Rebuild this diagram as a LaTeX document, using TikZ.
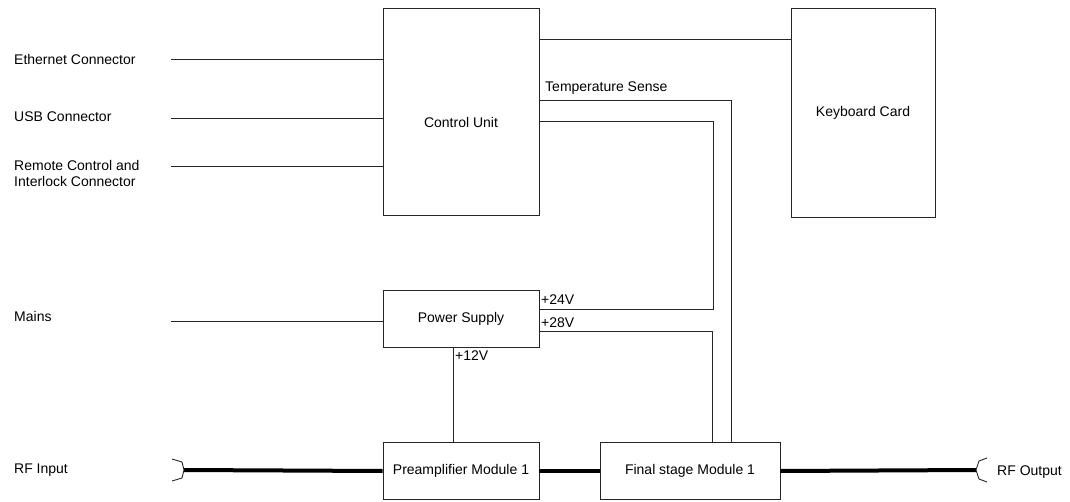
\documentclass[tikz,border=0pt]{standalone}
\usepackage{fontspec}
\setmainfont{Liberation Sans}
\begin{document}
\begin{tikzpicture}[x=1pt,y=-1pt,
  every node/.style={font=\fontsize{14}{16}\selectfont, text=black},
  box/.style={draw=black!85, line width=0.9pt, inner sep=0pt},
  wire/.style={draw=black!85, line width=0.9pt},
  rf/.style={draw=black, line width=4pt},
  lbl/.style={anchor=west, inner sep=0pt}]
\useasboundingbox (0,0) rectangle (1070,502);
% boxes
\node[box, minimum width=156pt, minimum height=207pt] (cu) at (461,111.5) {};
\node[inner sep=0pt] (cutext) at (461,122) {Control Unit};
\node[box, minimum width=144pt, minimum height=209pt] (kb) at (863,112.5) {Keyboard Card};
\node[box, minimum width=156pt, minimum height=57pt] (ps) at (461,318.5) {Power Supply};
\node[box, minimum width=156pt, minimum height=57pt] (pa) at (461,471) {Preamplifier Module 1};
\node[box, minimum width=180pt, minimum height=57pt] (fs) at (690,471) {Final stage Module 1};
% left labels
\node[lbl] (leth) at (14,59) {Ethernet Connector};
\node[lbl] (lusb) at (14,117) {USB Connector};
\node[lbl, align=left] (lrem) at (14,173) {Remote Control and\\Interlock Connector};
\node[lbl] (lmains) at (14,316) {Mains};
\node[lbl] (lrfin) at (14,470) {RF Input};
\node[lbl] (lrfout) at (997,472) {RF Output};
% other labels
\node[lbl] (ltemp) at (545,88) {Temperature Sense};
\node[lbl] (l24) at (541,300) {+24V};
\node[lbl] (l28) at (541,323) {+28V};
\node[lbl] (l12) at (455,356) {+12V};
% free ends
\coordinate (eth) at (171,59);
\coordinate (usb) at (171,118);
\coordinate (rem) at (171,166);
\coordinate (mains) at (171,321);
\coordinate (rfin) at (184,470);
\coordinate (rfout) at (976,470);
% control lines
\draw[wire] (eth) -- (eth -| cu.west);
\draw[wire] (usb) -- (usb -| cu.west);
\draw[wire] (rem) -- (rem -| cu.west);
\draw[wire] (mains) -- (mains -| ps.west);
\draw[wire] ([yshift=-32pt]cu.north east) -- ([yshift=-32pt]kb.north west);
\draw[wire] ([yshift=-93pt]cu.north east) -| ([xshift=132pt]fs.north west);
\draw[wire] ([yshift=-114pt]cu.north east) -| ([xshift=174pt,yshift=-20pt]ps.north east) -- ([yshift=-20pt]ps.north east);
\draw[wire] ([yshift=-42pt]ps.north east) -| ([xshift=113pt]fs.north west);
\draw[wire] ([xshift=-8pt]ps.south) -- ([xshift=-8pt]pa.north);
% RF path
\draw[rf] (rfin) -- (pa.west);
\draw[rf] (pa.east) -- (fs.west);
\draw[rf] (fs.east) -- (rfout);
% connectors
\draw[wire, line join=round] ([shift={(-12,-11)}]rfin) -- ([shift={(-2,-8)}]rfin) -- (rfin) -- ([shift={(-2,8)}]rfin) -- ([shift={(-12,11)}]rfin);
\draw[wire, line join=round] ([shift={(11,-12)}]rfout) -- ([shift={(3,-9)}]rfout) -- (rfout) -- ([shift={(3,9)}]rfout) -- ([shift={(11,12)}]rfout);
\end{tikzpicture}
\end{document}
